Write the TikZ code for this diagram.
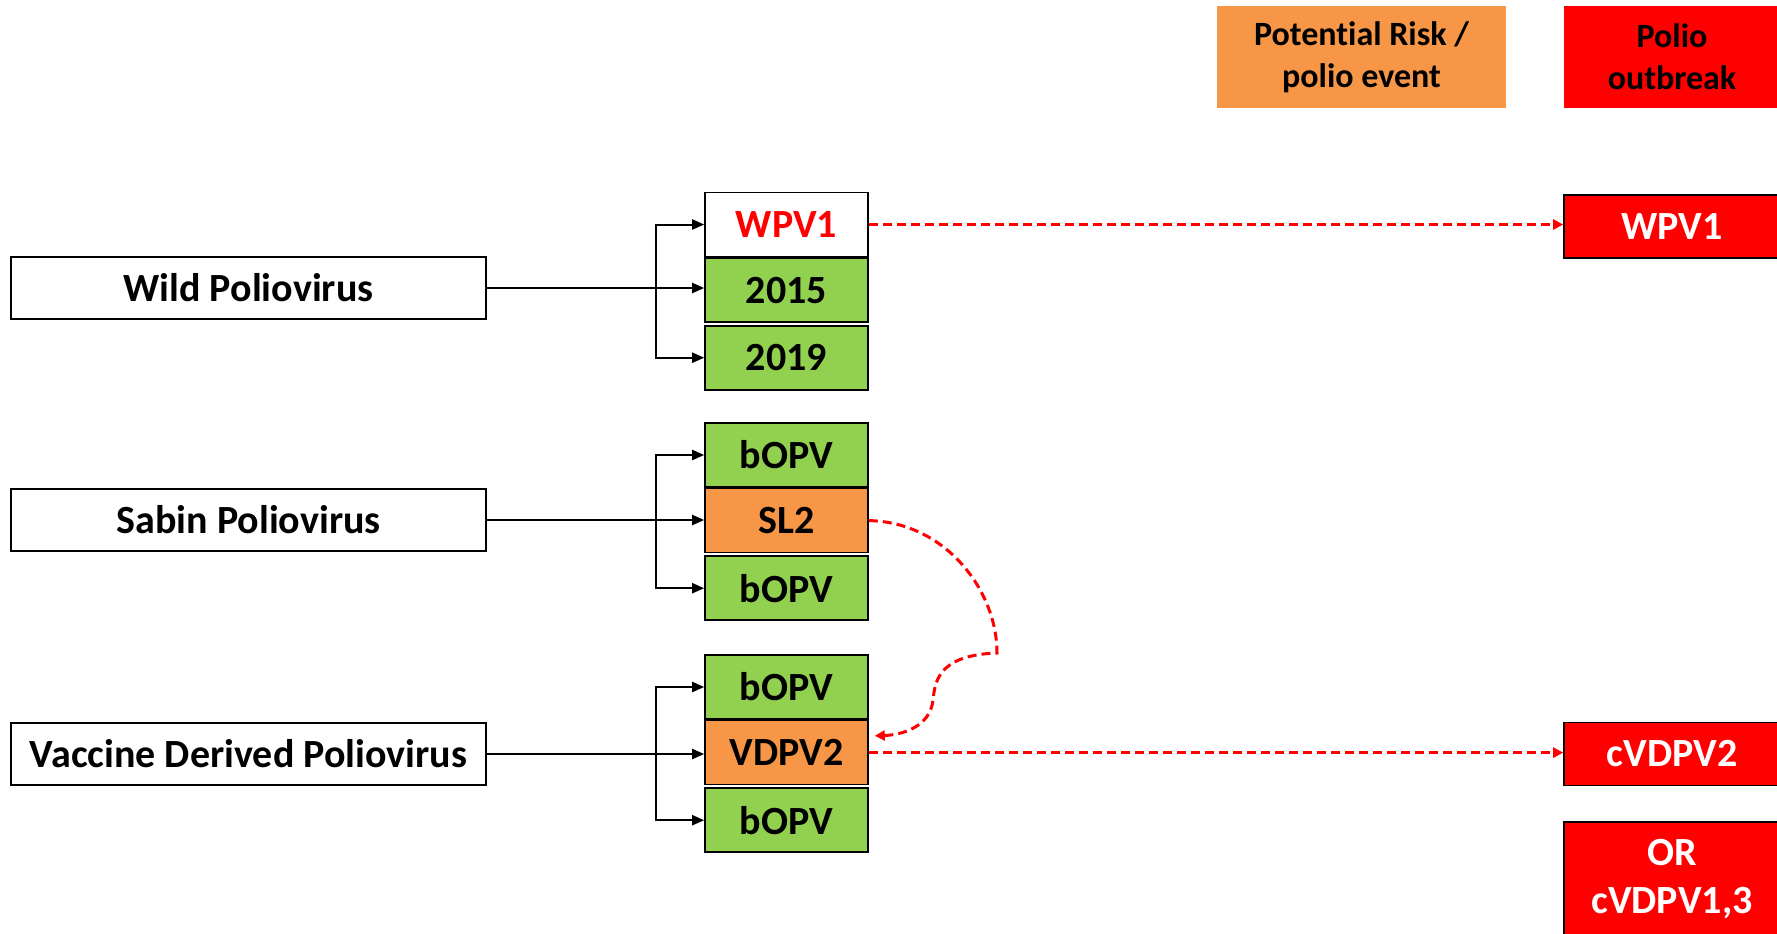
\documentclass[tikz,border=0pt]{standalone}
\usepackage{fontspec}
\setmainfont{Carlito}[RawFeature={-liga;-clig;-dlig;-calt}]
\usepackage{tikz}
\usetikzlibrary{positioning,arrows.meta}
\definecolor{vgreen}{HTML}{92D050}
\definecolor{vorange}{HTML}{F79646}
\definecolor{vred}{HTML}{FF0000}

\begin{document}
\begin{tikzpicture}[x=0.5pt,y=-0.5pt,
	virus/.style={draw,line width=0.8pt,minimum width=237.5pt,minimum height=31pt,inner sep=0pt,font=\fontsize{20}{24}\selectfont\bfseries},
	strain/.style={draw,line width=0.8pt,minimum width=81.5pt,minimum height=32pt,inner sep=0pt,font=\fontsize{20}{24}\selectfont\bfseries},
	ok/.style={strain,fill=vgreen},
	risk/.style={strain,fill=vorange},
	outbreak/.style={draw,line width=0.8pt,fill=vred,text=white,minimum width=108pt,minimum height=31.5pt,inner sep=0pt,align=center,font=\fontsize{20}{24}\selectfont\bfseries},
	head/.style={minimum height=51pt,inner sep=0pt,align=center,font=\fontsize{17}{21}\selectfont\bfseries},
	feed/.style={-{Triangle[length=6pt,width=5pt]},line width=1pt},
	branch/.style={{Triangle[length=6pt,width=5pt]}-{Triangle[length=6pt,width=5pt]},line width=1pt},
	spread/.style={-{Triangle[length=5pt,width=5pt]},draw=vred,fill=none,dash pattern=on 4.5pt off 2.5pt,line width=1.5pt}]
	\useasboundingbox (0,0) rectangle (1777,933);

	% legend
	\node[head,fill=vorange,minimum width=144.5pt] (hrisk) at (1361.5,57) {Potential Risk /\\polio event};
	\node[head,fill=vred,minimum width=108pt] (hout) at (1672,57) {Polio\\outbreak};

	% virus types
	\node[virus] (wild) at (248.5,288) {Wild Poliovirus};
	\node[virus] (sabin) at (248.5,520) {Sabin Poliovirus};
	\node[virus] (vacc) at (248.5,754) {Vaccine Derived Poliovirus};

	% strains
	\node[strain,text=vred] (wpv1) at (786.5,224.5) {WPV1};
	\node[ok,below=0pt of wpv1] (y2015) {2015};
	\node[ok,below=1pt of y2015] (y2019) {2019};

	\node[ok] (bopv1) at (786.5,455) {bOPV};
	\node[risk,below=0pt of bopv1] (sl2) {SL2};
	\node[ok,below=1pt of sl2] (bopv2) {bOPV};

	\node[ok] (bopv3) at (786.5,687) {bOPV};
	\node[risk,below=0pt of bopv3] (vdpv2) {VDPV2};
	\node[ok,below=1pt of vdpv2] (bopv4) {bOPV};

	% outbreaks
	\node[outbreak] (out1) at (1672,226.5) {WPV1};
	\node[outbreak] (out2) at (1672,754) {cVDPV2};
	\node[outbreak,minimum height=57pt] (out3) at (1672,879) {OR\\cVDPV1,3};

	\draw[feed] (wild.east) -- (wild.east -| y2015.west);
	\draw[branch] (wpv1.west) -| ([xshift=-24pt]y2019.west) -- (y2019.west);
	\draw[feed] (sabin.east) -- (sabin.east -| sl2.west);
	\draw[branch] (bopv1.west) -| ([xshift=-24pt]bopv2.west) -- (bopv2.west);
	\draw[feed] (vacc.east) -- (vacc.east -| vdpv2.west);
	\draw[branch] (bopv3.west) -| ([xshift=-24pt]bopv4.west) -- (bopv4.west);

	\draw[spread] (wpv1.east) -- (wpv1.east -| out1.west);
	\draw[spread] (vdpv2.east) -- (vdpv2.east -| out2.west);
	\draw[spread] (sl2.east) .. controls (945,522) and (997,590) .. (997,653)
		.. controls (935,655) and (935,685) .. (933,700)
		.. controls (930,728) and (900,735) .. ([shift={(3pt,-8pt)}]vdpv2.north east);
\end{tikzpicture}
\end{document}
